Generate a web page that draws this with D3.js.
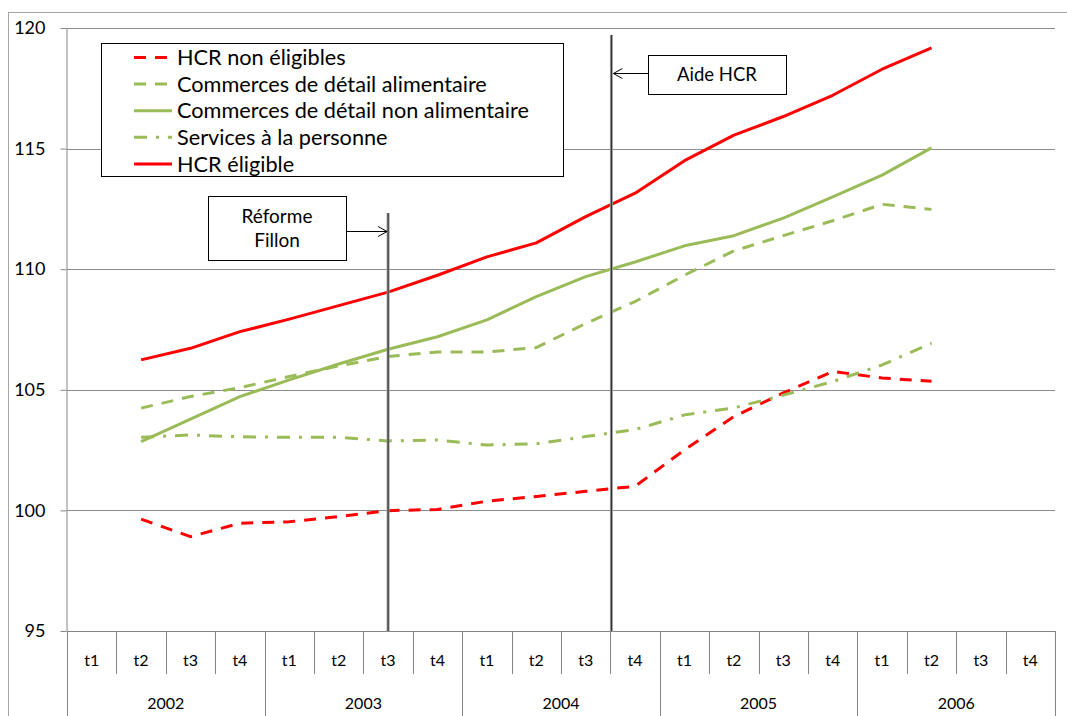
<!DOCTYPE html>
<html>
<head>
<meta charset="utf-8">
<script src="https://cdn.jsdelivr.net/npm/d3@7"></script>
<style>
  body { margin: 0; background: #fff; }
  text { font-family: Lato, "Open Sans", sans-serif; fill: #000; }
</style>
</head>
<body>
<script>

// data (null = no value for that quarter)
var years = ["2002", "2003", "2004", "2005", "2006"];
var quarters = ["t1", "t2", "t3", "t4"];
var yTicks = [95, 100, 105, 110, 115, 120];

var hcrNonEligibles = [null, 99.64, 98.91, 99.47, 99.53, 99.74, 99.99, 100.04, 100.38, 100.58, 100.79, 101.0,
  102.51, 103.89, 104.87, 105.76, 105.49, 105.35, null, null];
var commAlimentaire = [null, 104.24, 104.72, 105.09, 105.55, 105.99, 106.38, 106.57, 106.57, 106.75, 107.75, 108.66,
  109.75, 110.76, 111.39, 112.01, 112.69, 112.48, null, null];
var commNonAlimentaire = [null, 102.85, 103.78, 104.72, 105.41, 106.07, 106.68, 107.2, 107.9, 108.86, 109.69, 110.3,
  110.97, 111.39, 112.12, 113.0, 113.9, 115.03, null, null];
var servicesPersonne = [null, 103.03, 103.13, 103.05, 103.03, 103.03, 102.88, 102.92, 102.71, 102.76, 103.06, 103.35,
  103.96, 104.25, 104.78, 105.34, 106.03, 106.93, null, null];
var hcrEligible = [null, 106.24, 106.72, 107.41, 107.93, 108.49, 109.05, 109.75, 110.51, 111.09, 112.18, 113.15,
  114.5, 115.56, 116.33, 117.21, 118.29, 119.18, null, null];

var seriesNames = ["HCR non éligibles", "Commerces de détail alimentaire", "Commerces de détail non alimentaire",
  "Services à la personne", "HCR éligible"];

// categories "2002 t1" ... "2006 t4"
var cats = [];
years.forEach(function(yr) { quarters.forEach(function(q) { cats.push(yr + " " + q); }); });

var red = "#ff0000", green = "#9bbb59";
var series = [
  {name: seriesNames[0], values: hcrNonEligibles, color: red, dash: "12,9"},
  {name: seriesNames[1], values: commAlimentaire, color: green, dash: "12,9"},
  {name: seriesNames[2], values: commNonAlimentaire, color: green, dash: null},
  {name: seriesNames[3], values: servicesPersonne, color: green, dash: "13,9,3,9"},
  {name: seriesNames[4], values: hcrEligible, color: red, dash: null}
];

var W = 1067, H = 716;
var plotLeft = 67, plotRight = 1055, plotTop = 28, plotBottom = 631;

var svg = d3.select("body").append("svg")
  .attr("width", W)
  .attr("height", H);

// chart border
svg.append("rect")
  .attr("x", 8.5).attr("y", 12.5)
  .attr("width", 1080).attr("height", 720)
  .attr("fill", "none").attr("stroke", "#a6a6a6");

var x = d3.scaleBand().domain(cats).range([plotLeft, plotRight]);
var y = d3.scaleLinear().domain([95, 120]).range([plotBottom, plotTop]);
var bw = x.bandwidth();

// gridlines
svg.append("g").selectAll("line")
  .data(yTicks.slice(1))
  .enter().append("line")
  .attr("x1", plotLeft).attr("x2", plotRight)
  .attr("y1", function(d) { return Math.round(y(d)) + 0.5; })
  .attr("y2", function(d) { return Math.round(y(d)) + 0.5; })
  .attr("stroke", "#8c8c8c");

// y axis
var yAxis = svg.append("g")
  .attr("transform", "translate(" + (plotLeft - 0.5) + ",0)")
  .call(d3.axisLeft(y).tickValues(yTicks).tickSize(6).tickSizeOuter(0).tickPadding(15));
yAxis.select(".domain").attr("stroke", "#868686");
yAxis.selectAll(".tick line").attr("stroke", "#868686");
yAxis.selectAll(".tick text").style("font-size", "18px").style("font-family", "Lato, sans-serif").attr("fill", "#000");

// category axis: baseline, separators, labels
svg.append("line")
  .attr("x1", plotLeft).attr("x2", plotRight)
  .attr("y1", plotBottom + 0.5).attr("y2", plotBottom + 0.5)
  .attr("stroke", "#868686");

var bounds = cats.map(function(c) { return x(c); }).concat([plotRight]);
svg.append("g").selectAll("line")
  .data(bounds)
  .enter().append("line")
  .attr("x1", function(d) { return Math.round(d) + 0.5; })
  .attr("x2", function(d) { return Math.round(d) + 0.5; })
  .attr("y1", plotBottom)
  .attr("y2", function(d, i) { return i % 4 === 0 ? H : 674; })
  .attr("stroke", "#868686");

svg.append("g").selectAll("text")
  .data(cats)
  .enter().append("text")
  .attr("x", function(d) { return x(d) + bw / 2; })
  .attr("y", 660)
  .attr("dy", "0.35em")
  .attr("text-anchor", "middle")
  .style("font-size", "16px")
  .text(function(d) { return d.split(" ")[1]; });

svg.append("g").selectAll("text")
  .data(years)
  .enter().append("text")
  .attr("x", function(d) { return x(d + " t1") + 2 * bw; })
  .attr("y", 703)
  .attr("dy", "0.35em")
  .attr("text-anchor", "middle")
  .style("font-size", "16px")
  .text(function(d) { return d; });

// series lines
var line = d3.line()
  .defined(function(d) { return d != null; })
  .x(function(d, i) { return x(cats[i]) + bw / 2; })
  .y(function(d) { return y(d); });

svg.append("g").selectAll("path")
  .data(series)
  .enter().append("path")
  .attr("d", function(s) { return line(s.values); })
  .attr("fill", "none")
  .attr("stroke", function(s) { return s.color; })
  .attr("stroke-width", 3)
  .attr("stroke-dasharray", function(s) { return s.dash; })
  .attr("stroke-linejoin", "round");

// event markers
function marker(xPos, y1) {
  svg.append("line")
    .attr("x1", xPos).attr("x2", xPos).attr("y1", y1).attr("y2", plotBottom)
    .attr("stroke", "#9a9a9a").attr("stroke-width", 3);
  svg.append("line")
    .attr("x1", xPos).attr("x2", xPos).attr("y1", y1).attr("y2", plotBottom)
    .attr("stroke", "#262626").attr("stroke-width", 1);
}
function box(x0, y0, w, h, lines, fs) {
  svg.append("rect")
    .attr("x", x0 + 0.5).attr("y", y0 + 0.5).attr("width", w).attr("height", h)
    .attr("fill", "#fff").attr("stroke", "#000");
  var lh = fs * 1.25;
  lines.forEach(function(t, i) {
    svg.append("text")
      .attr("x", x0 + w / 2)
      .attr("y", y0 + h / 2 + (i - (lines.length - 1) / 2) * lh)
      .attr("dy", "0.35em")
      .attr("text-anchor", "middle")
      .style("font-size", fs + "px")
      .text(t);
  });
}
function arrow(x1, x2, yy) {
  var dir = x2 > x1 ? 1 : -1;
  svg.append("path")
    .attr("d", "M" + x1 + "," + yy + "H" + x2 +
      "M" + (x2 - dir * 9) + "," + (yy - 5) + "L" + x2 + "," + yy + "L" + (x2 - dir * 9) + "," + (yy + 5))
    .attr("fill", "none").attr("stroke", "#000").attr("stroke-width", 1);
}

var reformeX = x("2003 t3") + bw / 2;
var aideX = x("2004 t4") + 1;
marker(reformeX, 213);
marker(aideX, 35);
box(208, 196, 138, 64, ["Réforme", "Fillon"], 19);
arrow(346, reformeX - 1, 231.5);
box(648, 55, 138, 39, ["Aide HCR"], 18.5);
arrow(648, aideX + 2, 73.5);

// legend
var lg = svg.append("g");
lg.append("rect")
  .attr("x", 101.5).attr("y", 43.5).attr("width", 462).attr("height", 133)
  .attr("fill", "#fff").attr("stroke", "#000");
var row = lg.selectAll(".legend")
  .data(series)
  .enter().append("g")
  .attr("class", "legend")
  .attr("transform", function(d, i) { return "translate(0," + (57.5 + i * 26.6) + ")"; });
row.append("line")
  .attr("x1", 134).attr("x2", 172)
  .attr("stroke", function(d) { return d.color; })
  .attr("stroke-width", 3)
  .attr("stroke-dasharray", function(d) { return d.dash; });
row.append("text")
  .attr("x", 177)
  .attr("dy", "0.35em")
  .style("font-size", "21.7px")
  .text(function(d) { return d.name; });

</script>
</body>
</html>
